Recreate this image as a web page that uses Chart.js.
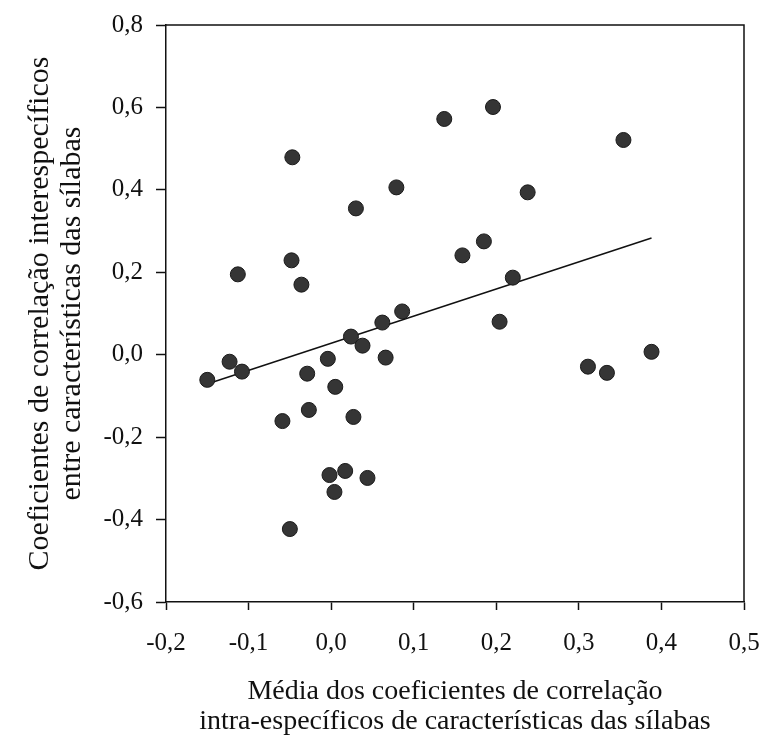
<!DOCTYPE html>
<html>
<head>
<meta charset="utf-8">
<script src="https://cdn.jsdelivr.net/npm/chart.js@4/dist/chart.umd.min.js"></script>
<style>
  html, body { margin: 0; padding: 0; background: #ffffff; }
  #wrap { width: 762px; height: 742px; }
</style>
</head>
<body>
<div id="wrap"><canvas id="c" width="762" height="742"></canvas></div>
<script>
// Scatter data: mean intra-specific correlation (x) vs inter-specific correlation (y)
const xValues = [-0.150, -0.123, -0.108, -0.113, -0.047, -0.048, -0.036, 0.030, 0.079, 0.137, 0.196, 0.354, 0.238, 0.185, 0.159, 0.220, 0.204, 0.086, 0.062, 0.024, 0.038, 0.066, -0.004, -0.029, 0.005, -0.027, -0.059, 0.027, -0.002, 0.017, 0.044, 0.004, -0.050, 0.311, 0.334, 0.388];
const yValues = [-0.061, -0.017, -0.041, 0.195, 0.479, 0.229, 0.170, 0.355, 0.406, 0.572, 0.601, 0.521, 0.394, 0.275, 0.241, 0.187, 0.080, 0.105, 0.078, 0.044, 0.022, -0.007, -0.010, -0.046, -0.078, -0.134, -0.161, -0.151, -0.292, -0.282, -0.299, -0.333, -0.423, -0.029, -0.044, 0.007];

// Regression line end points
const trendX = [-0.153, 0.388];
const trendY = [-0.073, 0.283];

// Tick labels
const xTickValues = [-0.2, -0.1, 0.0, 0.1, 0.2, 0.3, 0.4, 0.5];
const xTickLabels = ['-0,2', '-0,1', '0,0', '0,1', '0,2', '0,3', '0,4', '0,5'];
const yTickValues = [-0.6, -0.4, -0.2, 0.0, 0.2, 0.4, 0.6, 0.8];
const yTickLabels = ['-0,6', '-0,4', '-0,2', '0,0', '0,2', '0,4', '0,6', '0,8'];

const xTitle = ['Média dos coeficientes de correlação', 'intra-específicos de características das sílabas'];
const yTitle = ['Coeficientes de correlação interespecíficos', 'entre características das sílabas'];

const points = xValues.map((x, i) => ({ x: x, y: yValues[i] }));
const trend = trendX.map((x, i) => ({ x: x, y: trendY[i] }));

function labelFor(values, labels, v) {
  for (let i = 0; i < values.length; i++) {
    if (Math.abs(values[i] - v) < 1e-6) return labels[i];
  }
  return '';
}

const FONT = "'Liberation Serif', 'Times New Roman', serif";

const frame = {
  id: 'frame',
  afterDatasetsDraw(chart) {
    const { ctx, chartArea: a } = chart;
    ctx.save();
    ctx.strokeStyle = '#111';
    ctx.lineWidth = 1.5;
    ctx.beginPath();
    ctx.moveTo(a.left, a.top);
    ctx.lineTo(a.right, a.top);
    ctx.lineTo(a.right, a.bottom);
    ctx.stroke();
    ctx.restore();
  }
};

new Chart(document.getElementById('c'), {
  type: 'scatter',
  data: {
    datasets: [
      {
        type: 'line',
        label: 'trend',
        data: trend,
        borderColor: '#111',
        borderWidth: 1.5,
        pointRadius: 0,
        fill: false,
        order: 2
      },
      {
        label: 'espécies',
        data: points,
        backgroundColor: '#353535',
        borderColor: '#1a1a1a',
        borderWidth: 1,
        pointRadius: 7.5,
        pointHoverRadius: 7.5,
        order: 1
      }
    ]
  },
  plugins: [frame],
  options: {
    responsive: false,
    animation: false,
    events: [],
    layout: { padding: { left: 0, right: 18, top: 25, bottom: 0 } },
    plugins: { legend: { display: false }, tooltip: { enabled: false } },
    scales: {
      x: {
        type: 'linear',
        min: -0.2,
        max: 0.5,
        afterBuildTicks(scale) { scale.ticks = xTickValues.map(v => ({ value: v })); },
        afterFit(scale) { scale.height = 140; scale.paddingLeft = 0; scale.paddingRight = 0; },
        ticks: {
          color: '#111',
          padding: 18,
          font: { family: FONT, size: 25 },
          callback: v => labelFor(xTickValues, xTickLabels, v)
        },
        grid: { display: true, drawOnChartArea: false, drawTicks: true, tickLength: 8, tickColor: '#111', tickWidth: 1.5 },
        border: { display: true, color: '#111', width: 1.5 },
        title: {
          display: true,
          text: xTitle,
          color: '#111',
          font: { family: FONT, size: 28, lineHeight: 30 / 28 },
          padding: { top: 0, bottom: 5 }
        }
      },
      y: {
        type: 'linear',
        min: -0.6,
        max: 0.8,
        afterBuildTicks(scale) { scale.ticks = yTickValues.map(v => ({ value: v })); },
        afterFit(scale) { scale.width = 166; scale.paddingTop = 0; scale.paddingBottom = 0; },
        ticks: {
          color: '#111',
          padding: 13,
          font: { family: FONT, size: 25 },
          callback: v => labelFor(yTickValues, yTickLabels, v)
        },
        grid: { display: true, drawOnChartArea: false, drawTicks: true, tickLength: 10, tickColor: '#111', tickWidth: 1.5 },
        border: { display: true, color: '#111', width: 1.5 },
        title: {
          display: true,
          text: yTitle,
          color: '#111',
          font: { family: FONT, size: 30, lineHeight: 32 / 30 },
          padding: { top: 24, bottom: 0 }
        }
      }
    }
  }
});
</script>
</body>
</html>
